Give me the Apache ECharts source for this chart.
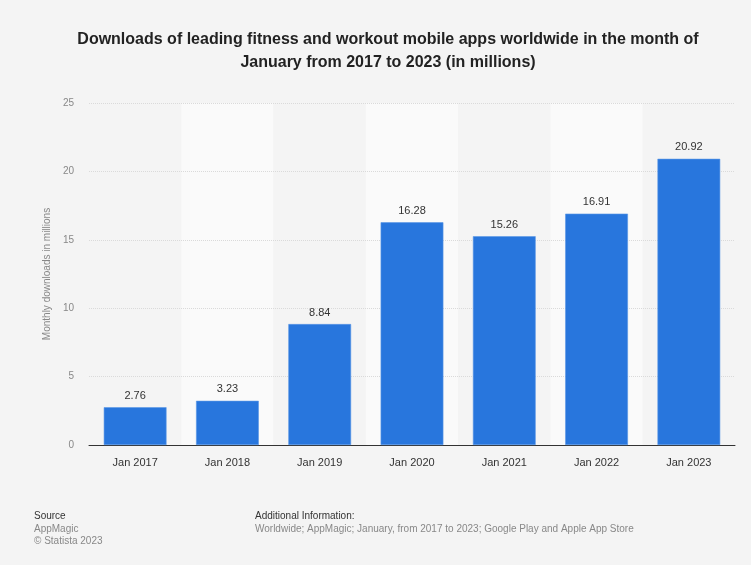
<!DOCTYPE html>
<html><head><meta charset="utf-8">
<script src="https://cdn.jsdelivr.net/npm/echarts@6/dist/echarts.min.js"></script>
<style>html,body{margin:0;padding:0;background:#f4f4f4;}#c{width:751px;height:565px;}</style>
</head><body><div id="c"></div>
<script>
const categories = ["Jan 2017","Jan 2018","Jan 2019","Jan 2020","Jan 2021","Jan 2022","Jan 2023"];
const downloads = [2.76, 3.23, 8.84, 16.28, 15.26, 16.91, 20.92];
const yTicks = [0, 5, 10, 15, 20, 25];
const titleText = "Downloads of leading fitness and workout mobile apps worldwide in the month of\nJanuary from 2017 to 2023 (in millions)";
const yName = "Monthly downloads in millions";

const chart = echarts.init(document.getElementById('c'), null, {renderer:'canvas'});
const F = 'Liberation Sans, Arial, sans-serif';
chart.setOption({
  backgroundColor: '#f4f4f4',
  animation: false,
  grid: {left: 89, right: 16, top: 103, bottom: 120},
  xAxis: [{
    type: 'category', data: categories, z: 3,
    axisLine: {lineStyle: {color: '#333', width: 1}},
    axisTick: {show: false},
    axisLabel: {fontFamily: F, fontSize: 11, color: '#333', margin: 12},
    splitArea: {show: false}
  }, {
    type: 'category', data: categories, z: 0, position: 'bottom',
    axisLine: {show: false}, axisTick: {show: false}, axisLabel: {show: false},
    splitArea: {show: true, areaStyle: {color: ['#f4f4f4', '#fafafa']}}
  }],
  yAxis: {
    type: 'value', min: yTicks[0], max: yTicks[yTicks.length-1], interval: 5, z: 1,
    name: yName, nameLocation: 'middle', nameGap: 31,
    nameTextStyle: {fontFamily: F, fontSize: 10, color: '#888'},
    axisLine: {show: false}, axisTick: {show: false},
    axisLabel: {fontFamily: F, fontSize: 10, color: '#888', margin: 15},
    splitLine: {lineStyle: {color: '#dadada', type: [1, 1]}}
  },
  series: [{
    type: 'bar', data: downloads, barWidth: '68%', xAxisIndex: 0, z: 4,
    itemStyle: {color: '#2876dd', borderColor: '#5b97e6', borderWidth: 0.6},
    label: {show: true, position: 'top', distance: 6, fontFamily: F, fontSize: 11, color: '#333',
      formatter: p => p.value.toFixed(2)}
  }],
  graphic: [
    {type:'text', x: 388, y: 28.5, style:{text: titleText, textAlign:'center', textVerticalAlign:'top', fontFamily:F, fontSize:16, fontWeight:'bold', fill:'#222', lineHeight:23}},
    {type:'text', left: 34, top: 511, style:{text:'Source', fontFamily:F, fontSize:10, fill:'#333'}},
    {type:'text', left: 34, top: 524, style:{text:'AppMagic', fontFamily:F, fontSize:10, fill:'#888'}},
    {type:'text', left: 34, top: 536, style:{text:'© Statista 2023', fontFamily:F, fontSize:10, fill:'#888'}},
    {type:'text', left: 255, top: 511, style:{text:'Additional Information:', fontFamily:F, fontSize:10, fill:'#333'}},
    {type:'text', left: 255, top: 524, style:{text:'Worldwide; AppMagic; January, from 2017 to 2023; Google Play and Apple App Store', fontFamily:F, fontSize:10, fill:'#888'}}
  ]
});
</script></body></html>
